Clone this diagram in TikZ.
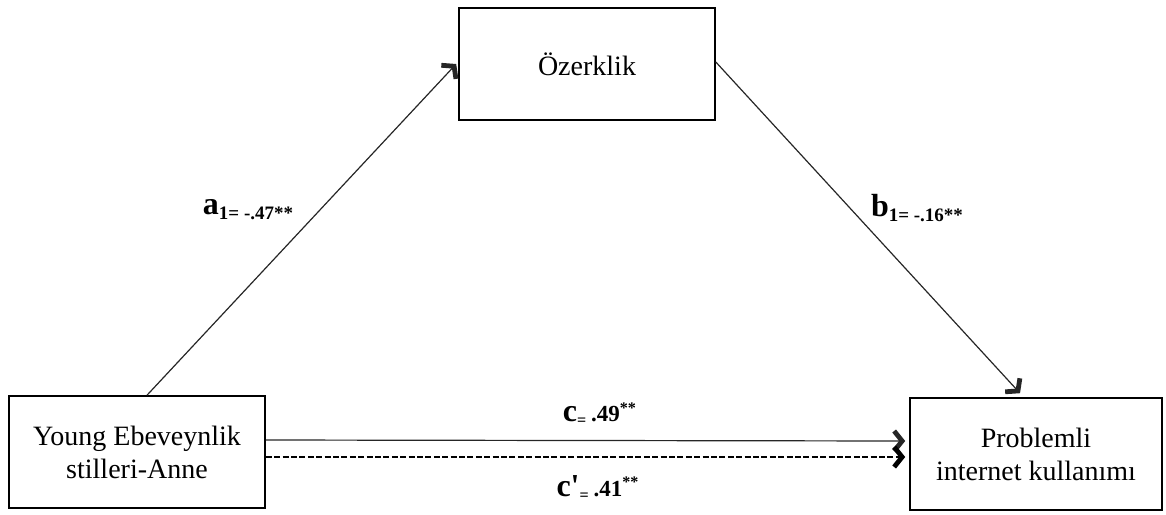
\documentclass[tikz,border=0pt]{standalone}
\usepackage{fontspec}
\setmainfont{Liberation Serif}
\usetikzlibrary{arrows.meta,positioning}

\begin{document}
\begin{tikzpicture}[x=0.5pt,y=-0.5pt,
		box/.style={draw, rectangle, thick, minimum width=128pt, minimum height=56pt, align=center, font=\fontsize{14}{16.5}\selectfont},
		coef/.style={font=\bfseries\fontsize{11.5}{13}\selectfont},
		tip/.style={-{Straight Barb[length=4pt,width=10pt,line width=2.4pt]}}]
		\useasboundingbox (0,0) rectangle (1166,514);
		\draw (587,64) node [box] (ozerk) {Özerklik};
		\draw (137,452) node [box] (young) {Young Ebeveynlik\\stilleri-Anne};
		\draw (1036,454) node [box, minimum width=126pt] (piu) {Problemli\\internet kullanımı};
		\path[tip, semithick, gray!30!black]
			([xshift=5pt]young.north) edge ([xshift=-1pt]ozerk.west)
			([yshift=1pt]ozerk.east) edge ([xshift=-8pt,yshift=2pt]piu.north)
			([yshift=6pt]young.east) edge ([xshift=-2pt,yshift=6.5pt]piu.west);
		\draw[tip, line width=1.4pt, dash pattern=on 3pt off 1.2pt]
			([yshift=-2.5pt]young.east) -- ([xshift=-2pt,yshift=-1.5pt]piu.west);
		\draw (248,210) node [coef] (alab) {{\fontsize{16}{16}\selectfont a}\raisebox{-2.5pt}{\fontsize{9.5}{10}\selectfont 1= -.47**}};
		\draw (917,208) node [coef] (blab) {{\fontsize{16}{16}\selectfont b}\raisebox{-2.5pt}{\fontsize{9.5}{10}\selectfont 1= -.16**}};
		\draw (600,414) node [coef] (clab) {{\fontsize{16}{16}\selectfont c}\textsubscript{=}\,.49\textsuperscript{**}};
		\draw (598,488) node [coef] (cplab) {{\fontsize{16}{16}\selectfont c\textquotesingle}\textsubscript{=}\,.41\textsuperscript{**}};
	\end{tikzpicture}
\end{document}
